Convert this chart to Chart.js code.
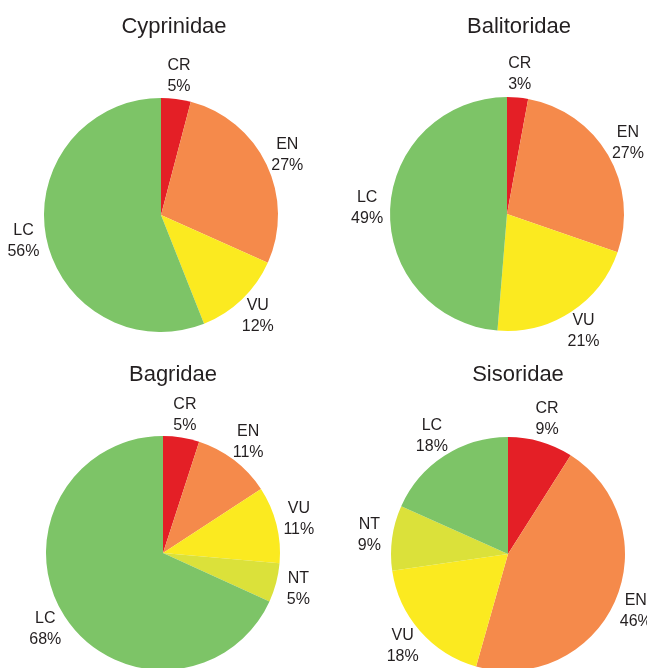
<!DOCTYPE html>
<html>
<head>
<meta charset="utf-8">
<script src="https://cdn.jsdelivr.net/npm/chart.js@4/dist/chart.umd.min.js"></script>
<style>
  body { margin: 0; background: #fff; width: 647px; height: 668px; overflow: hidden; position: relative; }
  canvas { position: absolute; }
</style>
</head>
<body>
<canvas id="pie1" width="323" height="350" style="left:0;top:0"></canvas>
<canvas id="pie2" width="323" height="350" style="left:324px;top:0"></canvas>
<canvas id="pie3" width="323" height="340" style="left:0;top:334px"></canvas>
<canvas id="pie4" width="323" height="340" style="left:324px;top:334px"></canvas>
<script>
/* 데이터 */
const families = ['Cyprinidae', 'Balitoridae', 'Bagridae', 'Sisoridae'];

const cyprCats = ['CR', 'EN', 'VU', 'LC'];
const cyprShare = [4.1, 27.6, 12.3, 56.0];
const cyprPct = ['5%', '27%', '12%', '56%'];

const baliCats = ['CR', 'EN', 'VU', 'LC'];
const baliShare = [2.9, 27.4, 21.0, 48.7];
const baliPct = ['3%', '27%', '21%', '49%'];

const bagrCats = ['CR', 'EN', 'VU', 'NT', 'LC'];
const bagrShare = [5.0, 10.8, 10.6, 5.4, 68.2];
const bagrPct = ['5%', '11%', '11%', '5%', '68%'];

const sisoCats = ['CR', 'EN', 'VU', 'NT', 'LC'];
const sisoShare = [9.0, 45.4, 18.3, 9.0, 18.3];
const sisoPct = ['9%', '46%', '18%', '9%', '18%'];

// 등급별 색상
const catColors = {
  CR: '#E41F26',
  EN: '#F58A4B',
  VU: '#FBEA20',
  NT: '#DBE13A',
  LC: '#7DC467'
};

const textColor = '#231F20';
const fontFamily = '"Liberation Sans", Arial, Helvetica, sans-serif';

// 제목 + 조각 라벨 그리기
const pieText = {
  id: 'pieText',
  afterDraw(chart, args, opts) {
    const ctx = chart.ctx;
    const meta = chart.getDatasetMeta(0);
    const pct = chart.data.datasets[0].pct;
    ctx.save();
    ctx.fillStyle = textColor;
    ctx.textAlign = 'center';

    // 제목
    const area = chart.chartArea;
    ctx.font = '22px ' + fontFamily;
    ctx.textBaseline = 'alphabetic';
    ctx.fillText(opts.title, (area.left + area.right) / 2 + opts.titleDx, opts.titleY);

    // 라벨
    ctx.font = '16px ' + fontFamily;
    ctx.textBaseline = 'middle';
    meta.data.forEach((arc, i) => {
      const p = arc.getProps(['x', 'y', 'startAngle', 'endAngle', 'outerRadius'], true);
      const mid = (p.startAngle + p.endAngle) / 2;
      const dist = p.outerRadius + 23;
      const lx = p.x + Math.cos(mid) * dist;
      const ly = p.y + Math.sin(mid) * dist;
      ctx.fillText(chart.data.labels[i], lx, ly - 10.5);
      ctx.fillText(pct[i], lx, ly + 10.5);
    });
    ctx.restore();
  }
};

function makePie(id, title, cats, share, pct, padding, titleDx, titleY) {
  return new Chart(document.getElementById(id), {
    type: 'pie',
    data: {
      labels: cats,
      datasets: [{
        data: share,
        pct: pct,
        backgroundColor: cats.map(c => catColors[c]),
        borderWidth: 0
      }]
    },
    options: {
      responsive: false,
      animation: false,
      layout: { padding: padding },
      plugins: {
        legend: { display: false },
        tooltip: { enabled: false },
        pieText: { title: title, titleDx: titleDx, titleY: titleY }
      }
    },
    plugins: [pieText]
  });
}

makePie('pie1', families[0], cyprCats, cyprShare, cyprPct, { left: 44, right: 45, top: 98, bottom: 18 }, 13, 33);
makePie('pie2', families[1], baliCats, baliShare, baliPct, { left: 66, right: 23, top: 97, bottom: 19 }, 12, 33);
makePie('pie3', families[2], bagrCats, bagrShare, bagrPct, { left: 46, right: 43, top: 102, bottom: 4 }, 10, 47);
makePie('pie4', families[3], sisoCats, sisoShare, sisoPct, { left: 67, right: 22, top: 103, bottom: 3 }, 10, 47);
</script>
</body>
</html>
